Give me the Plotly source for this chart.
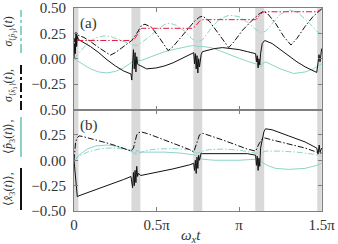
import plotly.graph_objects as go
from plotly.subplots import make_subplots

# kick times (units of pi) and half width of the shaded kick windows
kick_times = [0.0, 0.375, 0.75, 1.125, 1.5]
kick_half = 0.027

# ---- panel (a) ----
a_sx_t = [0, 0.005, 0.01, 0.015, 0.02, 0.027, 0.06, 0.1, 0.15, 0.2, 0.22, 0.25, 0.3, 0.35, 0.38,
          0.41, 0.43, 0.47, 0.52, 0.57, 0.6, 0.65, 0.7, 0.73, 0.76, 0.78, 0.82, 0.88, 0.937, 0.97,
          1.02, 1.08, 1.12, 1.145, 1.17, 1.22, 1.27, 1.314, 1.35, 1.4, 1.45, 1.5]
a_sx_v = [0.05, 0.2, 0.14, 0.26, 0.2, 0.23, 0.21, 0.17, 0.11, 0.05, 0.035, 0.06, 0.12, 0.18, 0.25,
          0.33, 0.34, 0.31, 0.2, 0.08, 0.12, 0.22, 0.31, 0.37, 0.41, 0.42, 0.37, 0.24, 0.11, 0.17,
          0.28, 0.38, 0.44, 0.465, 0.45, 0.35, 0.22, 0.135, 0.2, 0.32, 0.42, 0.49]

a_red_t = [0.02, 0.35, 0.37, 0.39, 0.41, 0.72, 0.74, 0.76, 0.78, 1.1, 1.12, 1.14, 1.155, 1.47, 1.49, 1.5]
a_red_v = [0.18, 0.18, 0.2, 0.26, 0.3, 0.3, 0.33, 0.37, 0.385, 0.385, 0.42, 0.455, 0.463, 0.463, 0.48, 0.49]

a_sp_t = [0, 0.03, 0.08, 0.13, 0.18, 0.22, 0.27, 0.32, 0.35, 0.38, 0.41, 0.45, 0.5, 0.55, 0.58,
          0.62, 0.67, 0.72, 0.75, 0.78, 0.83, 0.88, 0.94, 1.0, 1.05, 1.1, 1.13, 1.16, 1.2, 1.25,
          1.31, 1.36, 1.42, 1.47, 1.5]
a_sp_v = [0.0, 0.06, 0.15, 0.205, 0.225, 0.22, 0.19, 0.155, 0.14, 0.13, 0.16, 0.21, 0.28, 0.34, 0.35,
          0.33, 0.27, 0.19, 0.165, 0.19, 0.3, 0.39, 0.43, 0.415, 0.36, 0.29, 0.26, 0.27, 0.35, 0.44,
          0.48, 0.45, 0.36, 0.27, 0.24]

a_x_t = [0, 0.004, 0.008, 0.012, 0.016, 0.02, 0.027, 0.05, 0.1, 0.15, 0.2, 0.25, 0.3, 0.345,
         0.35, 0.355, 0.36, 0.365, 0.37, 0.375, 0.38, 0.385, 0.39, 0.405, 0.44, 0.5, 0.55, 0.6,
         0.65, 0.7, 0.725, 0.73, 0.735, 0.74, 0.745, 0.75, 0.755, 0.76, 0.77, 0.778, 0.85, 0.9,
         0.95, 1.0, 1.05, 1.1, 1.105, 1.11, 1.115, 1.12, 1.125, 1.13, 1.14, 1.155, 1.2, 1.25,
         1.3, 1.35, 1.4, 1.45, 1.47, 1.478, 1.484, 1.49, 1.495, 1.5]
a_x_v = [0.0, 0.15, 0.05, 0.26, 0.12, 0.22, 0.19, 0.17, 0.12, 0.06, -0.01, -0.07, -0.12, -0.15,
         -0.21, -0.05, 0.09, -0.1, 0.06, -0.13, 0.02, -0.05, -0.06, -0.07, -0.1, -0.09, -0.07, -0.04,
         0.0, 0.04, 0.06, -0.05, 0.05, -0.1, 0.03, -0.14, 0.0, -0.08, 0.04, 0.07, 0.1, 0.11,
         0.1, 0.09, 0.07, 0.05, -0.03, 0.03, -0.09, 0.0, -0.06, 0.05, 0.15, 0.18, 0.15, 0.09,
         0.03, -0.03, -0.08, -0.12, -0.135, -0.04, 0.04, -0.03, 0.08, 0.1]

a_p_t = [0, 0.05, 0.1, 0.15, 0.2, 0.25, 0.3, 0.345, 0.36, 0.38, 0.41, 0.45, 0.5, 0.55, 0.6, 0.65,
         0.7, 0.725, 0.75, 0.78, 0.83, 0.88, 0.94, 1.0, 1.05, 1.1, 1.12, 1.13, 1.14, 1.16, 1.2,
         1.25, 1.33, 1.4, 1.45, 1.48, 1.5]
a_p_v = [0.0, -0.05, -0.1, -0.13, -0.14, -0.125, -0.09, -0.04, -0.03, -0.02, -0.015, 0.01, 0.04,
         0.07, 0.09, 0.11, 0.125, 0.13, 0.12, 0.12, 0.11, 0.08, 0.04, 0.005, -0.025, -0.045, -0.06,
         -0.08, -0.05, -0.03, -0.06, -0.1, -0.145, -0.13, -0.1, -0.07, -0.05]

# ---- panel (b) ----
b_sx_t = [0, 0.005, 0.01, 0.02, 0.03, 0.05, 0.1, 0.15, 0.2, 0.25, 0.3, 0.345, 0.36, 0.37, 0.38,
          0.39, 0.405, 0.45, 0.5, 0.55, 0.6, 0.65, 0.7, 0.725, 0.74, 0.75, 0.76, 0.78, 0.85, 0.9,
          0.95, 1.0, 1.05, 1.1, 1.12, 1.14, 1.155, 1.2, 1.3, 1.4, 1.47, 1.5]
b_sx_v = [0.0, 0.12, 0.18, 0.22, 0.24, 0.235, 0.215, 0.195, 0.17, 0.145, 0.12, 0.09, 0.12, 0.2, 0.25,
          0.27, 0.28, 0.26, 0.23, 0.2, 0.17, 0.14, 0.105, 0.08, 0.15, 0.21, 0.25, 0.265, 0.23, 0.2,
          0.17, 0.14, 0.11, 0.09, 0.16, 0.21, 0.22, 0.2, 0.16, 0.12, 0.08, 0.07]

b_x_t = [0, 0.005, 0.01, 0.015, 0.02, 0.03, 0.1, 0.2, 0.3, 0.345, 0.35, 0.355, 0.36, 0.365, 0.37,
         0.375, 0.38, 0.385, 0.39, 0.405, 0.45, 0.5, 0.6, 0.7, 0.725, 0.73, 0.735, 0.74, 0.745,
         0.75, 0.755, 0.76, 0.77, 0.778, 0.85, 0.95, 1.05, 1.1, 1.105, 1.11, 1.115, 1.12, 1.125,
         1.13, 1.14, 1.15, 1.16, 1.2, 1.3, 1.4, 1.47, 1.478, 1.485, 1.49, 1.5]
b_x_v = [0.0, -0.1, -0.25, -0.34, -0.36, -0.35, -0.31, -0.25, -0.19, -0.16, -0.2, -0.27, -0.12,
         -0.25, -0.1, -0.22, -0.06, -0.16, -0.13, -0.15, -0.135, -0.12, -0.085, -0.045, -0.03, -0.1,
         0.0, -0.13, 0.03, -0.08, 0.05, 0.0, 0.07, 0.065, 0.065, 0.07, 0.065, 0.05, -0.05, 0.04,
         -0.1, 0.02, -0.06, 0.12, 0.2, 0.28, 0.31, 0.3, 0.24, 0.18, 0.12, 0.06, 0.15, 0.08, 0.12]

b_p_t = [0, 0.03, 0.08, 0.13, 0.2, 0.25, 0.3, 0.345, 0.37, 0.38, 0.4, 0.45, 0.55, 0.65, 0.72,
         0.74, 0.76, 0.78, 0.85, 1.0, 1.1, 1.13, 1.17, 1.22, 1.3, 1.4, 1.47, 1.5]
b_p_v = [0.0, 0.05, 0.11, 0.14, 0.15, 0.14, 0.12, 0.09, 0.06, 0.1, 0.08, 0.08, 0.08, 0.07, 0.06,
         0.05, 0.02, 0.01, 0.0, 0.0, 0.01, -0.01, -0.05, -0.08, -0.09, -0.08, -0.05, -0.03]

b_sp_t = [0, 0.03, 0.08, 0.15, 0.2, 0.25, 0.3, 0.345, 0.36, 0.38, 0.41, 0.45, 0.5, 0.6, 0.7,
          0.725, 0.75, 0.78, 0.82, 0.9, 1.0, 1.1, 1.13, 1.16, 1.25, 1.35, 1.45, 1.5]
b_sp_v = [0.0, 0.04, 0.08, 0.11, 0.12, 0.12, 0.11, 0.1, 0.08, 0.06, 0.08, 0.1, 0.11, 0.115, 0.105,
          0.09, 0.07, 0.09, 0.105, 0.11, 0.1, 0.07, 0.07, 0.09, 0.09, 0.08, 0.06, 0.04]

BLACK = "#111111"
TEAL = "#8dd3c7"
RED = "#e41a3c"
GRID = "#808080"
TEXT = "#333333"
DASHDOT = "6px,2px,1.5px,2px"
FONT = "Liberation Serif"

fig = make_subplots(rows=2, cols=1, shared_xaxes=True, vertical_spacing=0)


def add_line(t, v, color, dash, row):
    fig.add_trace(
        go.Scatter(x=t, y=v, mode="lines", line=dict(color=color, width=1.0, dash=dash),
                   showlegend=False, hoverinfo="skip"),
        row=row, col=1
    )


# panel (a)
add_line(a_p_t, a_p_v, TEAL, "solid", 1)
add_line(a_sp_t, a_sp_v, TEAL, DASHDOT, 1)
add_line(a_x_t, a_x_v, BLACK, "solid", 1)
add_line(a_sx_t, a_sx_v, BLACK, DASHDOT, 1)
add_line(a_red_t, a_red_v, RED, DASHDOT, 1)

# panel (b)
add_line(b_p_t, b_p_v, TEAL, "solid", 2)
add_line(b_sp_t, b_sp_v, TEAL, DASHDOT, 2)
add_line(b_x_t, b_x_v, BLACK, "solid", 2)
add_line(b_sx_t, b_sx_v, BLACK, DASHDOT, 2)

# shaded kick windows
for k in kick_times:
    fig.add_vrect(x0=max(0, k - kick_half), x1=min(1.5, k + kick_half), row="all", col=1,
                  fillcolor="#d9d9d9", line_width=0, layer="below")

axis_style = dict(showline=True, linecolor=GRID, linewidth=1, mirror="ticks", ticks="inside",
                  ticklen=4, tickcolor=GRID, showgrid=False, zeroline=False, automargin=False,
                  tickfont=dict(family=FONT, size=15, color=TEXT))

fig.update_xaxes(range=[0, 1.502], tickvals=[0, 0.5, 1, 1.5], **axis_style)
fig.update_xaxes(ticktext=["0", "0.5π", "π", "1.5π"], row=2, col=1)
fig.update_yaxes(range=[-0.5, 0.5], ticklabelstandoff=4, **axis_style)
fig.update_yaxes(tickvals=[-0.25, 0, 0.25, 0.5], ticktext=["−0.25", "0.00", "0.25", "0.50"], row=1, col=1)
fig.update_yaxes(tickvals=[-0.5, -0.25, 0, 0.25, 0.5],
                 ticktext=["−0.50", "−0.25", "0.00", "0.25", "0.50"], row=2, col=1)

# x-axis title
fig.add_annotation(x=0.47, y=-0.125, xref="paper", yref="paper", text="<i>ω<sub>x</sub>t</i>",
                   showarrow=False, yanchor="middle", font=dict(family=FONT, size=15, color=TEXT))

# panel tags
fig.add_annotation(x=0.015, y=0.975, xref="paper", yref="paper", text="(a)", showarrow=False,
                   xanchor="left", yanchor="top", font=dict(family=FONT, size=15, color=TEXT))
fig.add_annotation(x=0.015, y=0.475, xref="paper", yref="paper", text="(b)", showarrow=False,
                   xanchor="left", yanchor="top", font=dict(family=FONT, size=15, color=TEXT))

# y-axis title pieces with their line keys
ylabel_parts = [
    ("⟨<i>x̂</i><sub>3</sub>(<i>t</i>)⟩,", 0.005, 0.212, BLACK, "solid"),
    ("⟨<i>p̂</i><sub>3</sub>(<i>t</i>)⟩,", 0.266, 0.463, TEAL, "solid"),
    ("<i>σ</i><sub>⟨<i>x̂</i>₃⟩</sub>(<i>t</i>),", 0.4975, 0.734, BLACK, "dashdot"),
    ("<i>σ</i><sub>⟨<i>p̂</i>₃⟩</sub>(<i>t</i>)", 0.778, 0.99, TEAL, "dashdot"),
]
for text, y0, y1, color, dash in ylabel_parts:
    fig.add_annotation(x=-0.262, y=(y0 + y1) / 2, xref="paper", yref="paper", text=text,
                       showarrow=False, textangle=-90, xanchor="center", yanchor="middle",
                       font=dict(family=FONT, size=12, color=TEXT))
    fig.add_shape(type="line", xref="paper", yref="paper", x0=-0.2137, x1=-0.2137, y0=y0, y1=y1,
                  line=dict(color=color, width=2, dash=dash))

fig.update_layout(
    width=338, height=244,
    margin=dict(l=74, r=16, t=8, b=33),
    plot_bgcolor="white", paper_bgcolor="white",
)

# the page body has a default 8px margin; drop it so the figure fills the window
fig.write_html("out.html", config={"displayModeBar": False},
               post_script="document.body.style.margin='0px';")
